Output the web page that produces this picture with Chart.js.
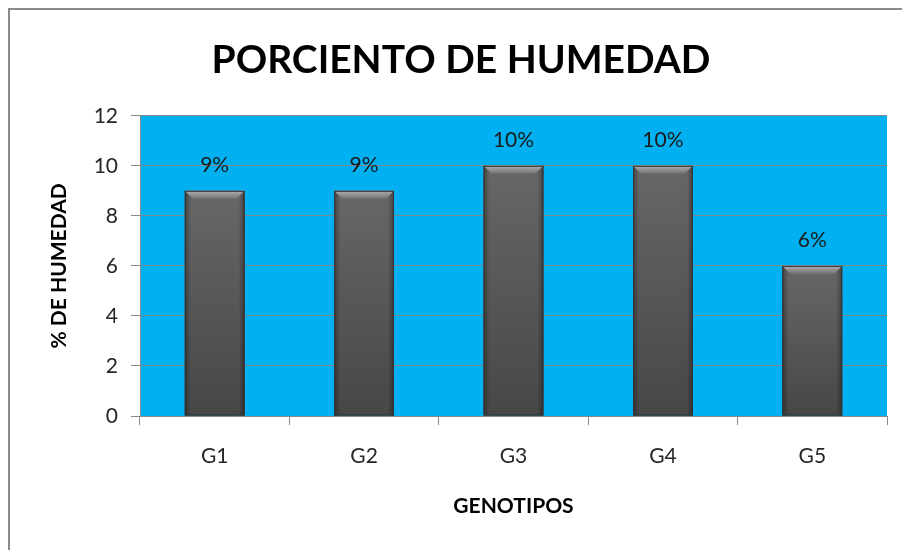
<!DOCTYPE html>
<html>
<head>
<meta charset="utf-8">
<script src="https://cdn.jsdelivr.net/npm/chart.js@4/dist/chart.umd.min.js"></script>
<style>
html,body{margin:0;padding:0;background:#fff;overflow:hidden;}
#wrap{width:902px;height:550px;position:relative;}
</style>
</head>
<body>
<div id="wrap"><canvas id="c" width="902" height="550"></canvas></div>
<script>
const categories = ["G1", "G2", "G3", "G4", "G5"];
const humedad = [9, 9, 10, 10, 6];
const pointLabels = ["9%", "9%", "10%", "10%", "6%"];
const yTicks = [0, 2, 4, 6, 8, 10, 12];

const FONT = "Lato, 'Open Sans', sans-serif";

const framePlugin = {
  id: 'frame',
  beforeDraw(chart) {
    const ctx = chart.ctx, a = chart.chartArea;
    ctx.save();
    ctx.fillStyle = '#ffffff';
    ctx.fillRect(0, 0, chart.width, chart.height);
    ctx.strokeStyle = '#8a8a8a';
    ctx.lineWidth = 2;
    ctx.strokeRect(9, 9, chart.width + 50, chart.height + 50);
    ctx.fillStyle = '#00b0f0';
    ctx.fillRect(a.left, a.top, a.right - a.left, a.bottom - a.top);
    ctx.restore();
  }
};

const barStylePlugin = {
  id: 'barStyle',
  afterDatasetsDraw(chart) {
    const ctx = chart.ctx;
    const meta = chart.getDatasetMeta(0);
    ctx.save();
    meta.data.forEach((el, i) => {
      const p = el.getProps(['x', 'y', 'base', 'width'], true);
      const l = p.x - p.width / 2, r = p.x + p.width / 2, t = p.y, b = p.base;
      let g = ctx.createLinearGradient(0, t, 0, b);
      g.addColorStop(0, '#676767');
      g.addColorStop(1, '#474747');
      ctx.fillStyle = g;
      ctx.fillRect(l, t, r - l, b - t);
      let hs = ctx.createLinearGradient(l, 0, r, 0);
      hs.addColorStop(0, 'rgba(0,0,0,0.35)');
      hs.addColorStop(0.1, 'rgba(0,0,0,0.0)');
      hs.addColorStop(0.9, 'rgba(0,0,0,0.0)');
      hs.addColorStop(1, 'rgba(0,0,0,0.35)');
      ctx.fillStyle = hs;
      ctx.fillRect(l, t, r - l, b - t);
      const bv = 8;
      let tg = ctx.createLinearGradient(0, t, 0, t + bv);
      tg.addColorStop(0, '#b0b0b0');
      tg.addColorStop(1, '#707070');
      ctx.fillStyle = tg;
      ctx.beginPath();
      ctx.moveTo(l, t);
      ctx.lineTo(r, t);
      ctx.lineTo(r - bv, t + bv);
      ctx.lineTo(l + bv, t + bv);
      ctx.closePath();
      ctx.fill();
      ctx.strokeStyle = '#333333';
      ctx.lineWidth = 1;
      ctx.strokeRect(l + 0.5, t + 0.5, r - l - 1, b - t - 1);
      ctx.fillStyle = '#1a1a1a';
      ctx.font = "21px " + FONT;
      ctx.textAlign = 'center';
      ctx.textBaseline = 'middle';
      ctx.fillText(pointLabels[i], p.x, t - 26);
    });
    ctx.restore();
  }
};

new Chart(document.getElementById('c'), {
  type: 'bar',
  data: {
    labels: categories,
    datasets: [{
      data: humedad,
      backgroundColor: '#555555',
      borderWidth: 0,
      barPercentage: 0.8,
      categoryPercentage: 0.5
    }]
  },
  options: {
    responsive: false,
    animation: false,
    layout: { padding: { left: 35, right: 15, top: 0, bottom: 0 } },
    plugins: {
      legend: { display: false },
      tooltip: { enabled: false },
      title: {
        display: true,
        text: 'PORCIENTO DE HUMEDAD',
        color: '#000000',
        font: { family: FONT, size: 39, weight: 'bold', lineHeight: 1.2 },
        padding: { top: 37, bottom: 32 }
      }
    },
    scales: {
      x: {
        grid: { drawOnChartArea: false, offset: true, tickLength: 9, color: '#8a8a8a' },
        border: { color: '#8a8a8a', width: 1 },
        ticks: { color: '#262626', font: { family: FONT, size: 21 }, padding: 19 },
        title: {
          display: true, text: 'GENOTIPOS', color: '#000',
          font: { family: FONT, size: 21, weight: 'bold', lineHeight: 1.2 },
          padding: { bottom: 31 }
        },
        afterFit(s) { s.height = 134; }
      },
      y: {
        min: 0, max: 12,
        afterBuildTicks(s) { s.ticks = yTicks.map(v => ({ value: v })); },
        grid: { color: '#7d8b93', tickLength: 9, tickColor: '#8a8a8a' },
        border: { color: '#8a8a8a', width: 1 },
        ticks: { color: '#262626', font: { family: FONT, size: 21 }, padding: 13 },
        title: {
          display: true, text: '% DE HUMEDAD', color: '#000',
          font: { family: FONT, size: 21, weight: 'bold', lineHeight: 1.2 },
          padding: { top: 12 }
        },
        afterFit(s) { s.width = 105; }
      }
    }
  },
  plugins: [framePlugin, barStylePlugin]
});
</script>
</body>
</html>
